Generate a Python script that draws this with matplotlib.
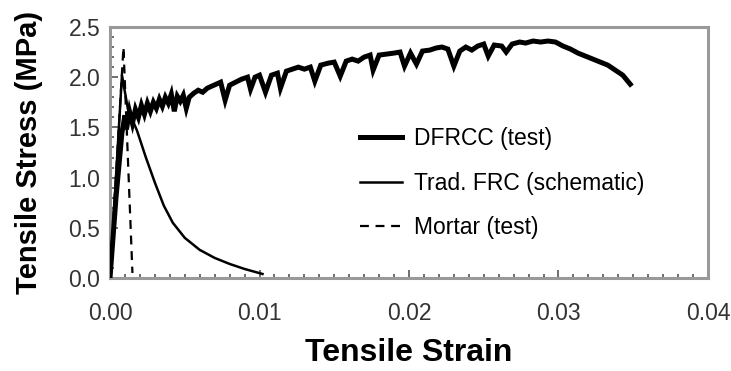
import matplotlib
matplotlib.use("Agg")
import matplotlib.pyplot as plt
from matplotlib.ticker import MultipleLocator, FormatStrFormatter

plt.rcParams['font.family'] = ['Liberation Sans', 'DejaVu Sans']

# DFRCC (test) - jagged strain hardening curve
dfrcc_strain = [0.0000, 0.0004, 0.0008, 0.0010, 0.0011, 0.0013, 0.0015, 0.0017, 0.0019, 0.0021,
                0.0023, 0.0025, 0.0027, 0.0029, 0.0031, 0.0033, 0.0035, 0.0037, 0.0039, 0.0041,
                0.0043, 0.0045, 0.0047, 0.0049, 0.0051, 0.0053, 0.0056, 0.0059, 0.0062, 0.0065,
                0.0068, 0.0071, 0.0074, 0.0077, 0.0080, 0.0084, 0.0088, 0.0092, 0.0094, 0.0097,
                0.0100, 0.0104, 0.0108, 0.0112, 0.0114, 0.0118, 0.0122, 0.0126, 0.0130, 0.0134,
                0.0137, 0.0141, 0.0146, 0.0150, 0.0154, 0.0158, 0.0162, 0.0166, 0.0170, 0.0174,
                0.0176, 0.0180, 0.0185, 0.0190, 0.0194, 0.0197, 0.0201, 0.0205, 0.0209, 0.0214,
                0.0218, 0.0222, 0.0226, 0.0230, 0.0234, 0.0238, 0.0242, 0.0246, 0.0250, 0.0253,
                0.0257, 0.0262, 0.0265, 0.0269, 0.0274, 0.0278, 0.0283, 0.0288, 0.0293, 0.0298,
                0.0303, 0.0308, 0.0313, 0.0318, 0.0323, 0.0328, 0.0333, 0.0338, 0.0343, 0.0348]
dfrcc_stress = [0.00, 0.80, 1.45, 1.62, 1.48, 1.66, 1.54, 1.68, 1.60, 1.72,
                1.63, 1.74, 1.66, 1.75, 1.69, 1.78, 1.71, 1.80, 1.74, 1.83,
                1.66, 1.81, 1.76, 1.82, 1.69, 1.80, 1.84, 1.87, 1.85, 1.89,
                1.91, 1.93, 1.95, 1.77, 1.92, 1.95, 1.98, 2.00, 1.88, 2.00,
                2.02, 1.85, 2.02, 2.04, 1.89, 2.06, 2.08, 2.10, 2.08, 2.10,
                1.96, 2.12, 2.14, 2.15, 2.01, 2.16, 2.18, 2.16, 2.20, 2.22,
                2.07, 2.22, 2.23, 2.24, 2.25, 2.11, 2.24, 2.13, 2.26, 2.27,
                2.29, 2.30, 2.28, 2.11, 2.26, 2.30, 2.27, 2.31, 2.33, 2.21,
                2.32, 2.31, 2.25, 2.33, 2.35, 2.34, 2.36, 2.35, 2.36, 2.35,
                2.31, 2.28, 2.24, 2.21, 2.18, 2.15, 2.12, 2.07, 2.02, 1.93]

# Trad. FRC (schematic)
frc_strain = [0.0, 0.0008, 0.0012, 0.0018, 0.0024, 0.0030, 0.0036, 0.0042, 0.0050,
              0.0060, 0.0070, 0.0080, 0.0090, 0.0102]
frc_stress = [0.0, 2.02, 1.68, 1.47, 1.20, 0.95, 0.72, 0.55, 0.40,
              0.28, 0.20, 0.14, 0.09, 0.04]

# Mortar (test)
mortar_strain = [0.0, 0.0009, 0.0015]
mortar_stress = [0.0, 2.30, 0.05]

fig = plt.figure(figsize=(7.31, 3.71), dpi=100)
ax = fig.add_axes([0.1505, 0.2507, 0.818, 0.6766])

ax.plot(dfrcc_strain, dfrcc_stress, color='black', lw=3.6, solid_joinstyle='miter',
        label='DFRCC (test)', zorder=3)
ax.plot(frc_strain, frc_stress, color='black', lw=1.8, label='Trad. FRC (schematic)', zorder=2)
ax.plot(mortar_strain, mortar_stress, color='black', lw=1.6, ls=(0, (4, 3)),
        label='Mortar (test)', zorder=2)

ax.set_xlim(0, 0.04)
ax.set_ylim(0, 2.5)
ax.xaxis.set_major_locator(MultipleLocator(0.01))
ax.xaxis.set_minor_locator(MultipleLocator(0.001))
ax.yaxis.set_major_locator(MultipleLocator(0.5))
ax.yaxis.set_minor_locator(MultipleLocator(0.1))
ax.xaxis.set_major_formatter(FormatStrFormatter('%.2f'))
ax.yaxis.set_major_formatter(FormatStrFormatter('%.1f'))

ax.tick_params(which='both', direction='in', colors='#555555', labelcolor='#333333',
               labelsize=16.5, width=1.2)
ax.tick_params(which='major', length=6)
ax.tick_params(which='minor', length=3)
ax.tick_params(axis='x', which='major', pad=17)
ax.tick_params(axis='y', which='major', pad=7)

for side in ['top', 'bottom', 'left', 'right']:
    ax.spines[side].set_color('#999999')
    ax.spines[side].set_linewidth(2.2)

ax.set_xlabel('Tensile Strain', fontsize=23, fontweight='bold', labelpad=10)
ax.set_ylabel('Tensile Stress (MPa)', fontsize=21, fontweight='bold', labelpad=18)

ax.legend(loc='center left', bbox_to_anchor=(0.418, 0.378), frameon=False,
          fontsize=16.5, borderaxespad=0, borderpad=0, handlelength=1.85,
          handletextpad=0.5, labelspacing=0.95)

fig.savefig('out.png', dpi=100)
